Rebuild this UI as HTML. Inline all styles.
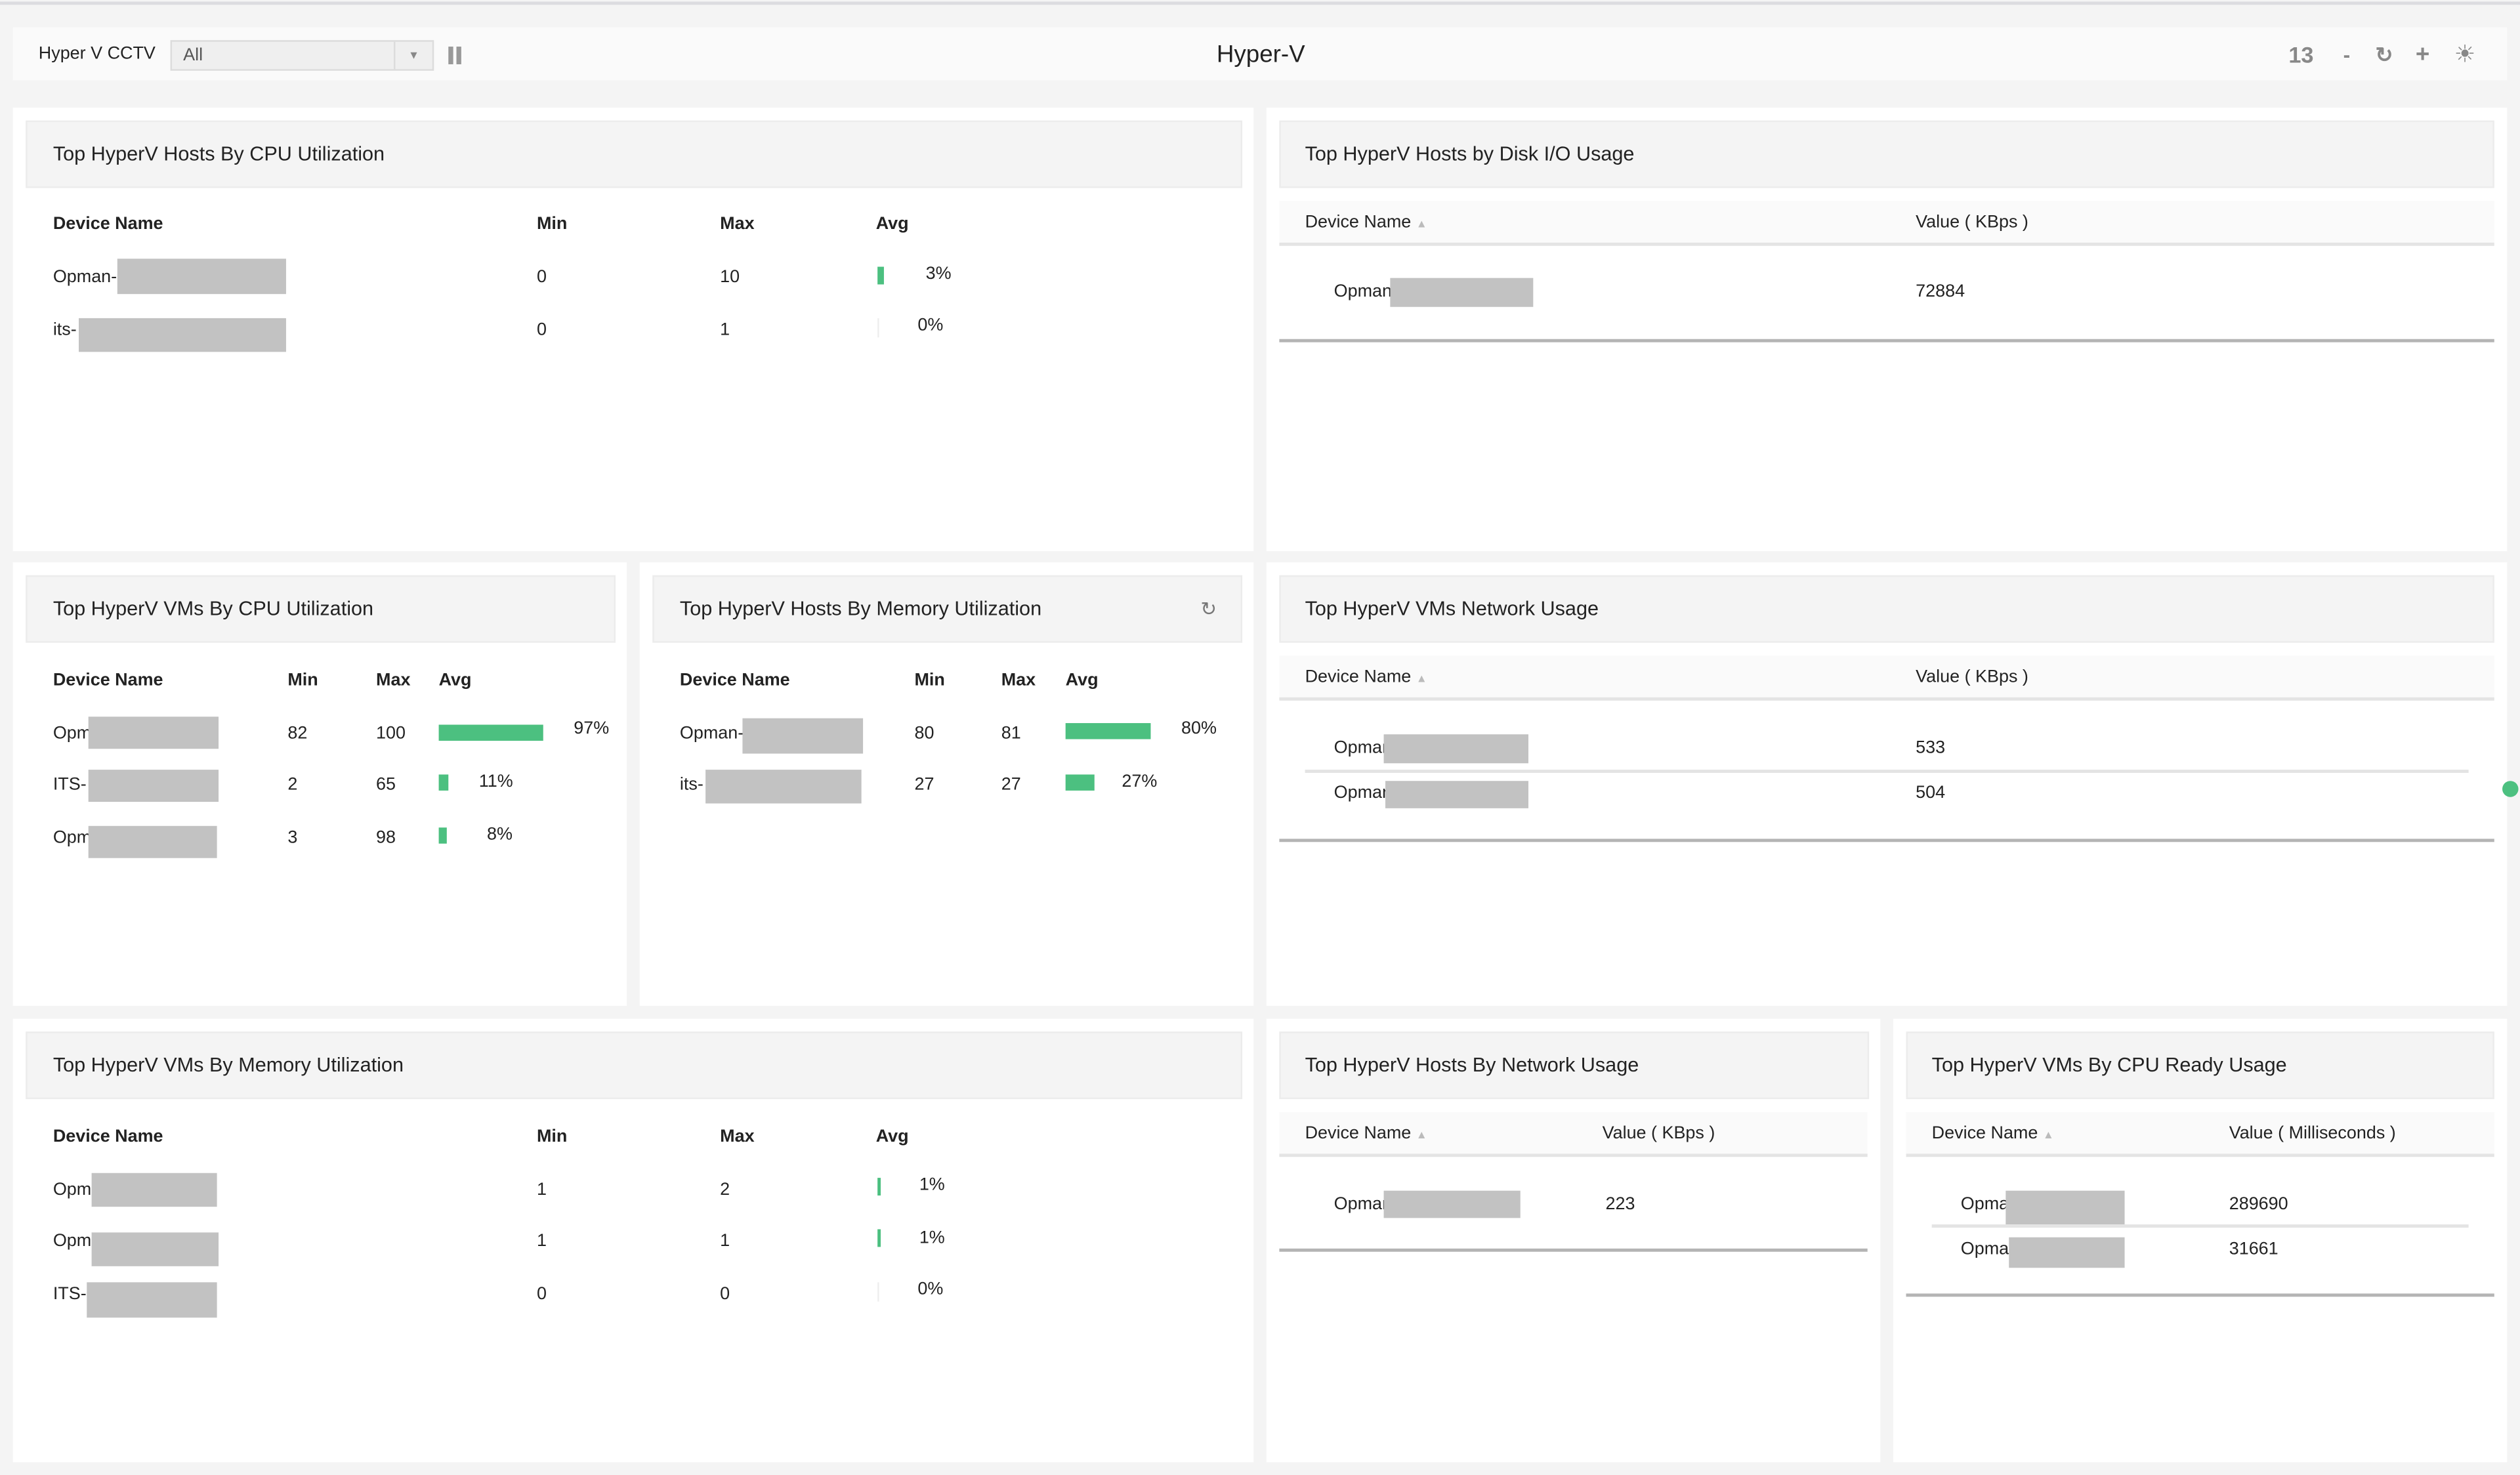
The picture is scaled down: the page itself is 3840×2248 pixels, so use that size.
<!DOCTYPE html>
<html><head><meta charset="utf-8"><style>
html,body{margin:0;padding:0;width:3840px;height:2247px;overflow:hidden;background:#f4f4f4}
#w{position:absolute;left:0;top:0;width:1568px;height:918px;transform:scale(2.44898);transform-origin:0 0;font-family:"Liberation Sans",sans-serif;color:#222}
#w div{position:absolute;box-sizing:border-box}
.p{background:#fff}
.h{background:#f4f4f4;border:1px solid #ececec;height:42px}
.t{transform:translateY(-50%);white-space:nowrap;font-size:11px;line-height:1}
.ti{font-size:12.5px}
.b{font-weight:bold}
.g{background:#c2c2c2}
.gr{background:#4cc080}
.ln{height:2px;background:#e4e4e4}
.lb{height:1.5px;background:#b4b4b4}
.hr{background:#fafafa}
.s{color:#bbb;font-size:7px}
</style></head><body><div id="w">
<div style="left:0;top:1px;width:1568px;height:2px;background:#dcdce0"></div>
<div style="left:8px;top:17px;width:1552px;height:33px;background:#fafafa"></div>
<div class="t" style="left:24px;top:34px">Hyper V CCTV</div>
<div style="left:106px;top:25px;width:164px;height:19px;background:#efefef;border:1px solid #dcdcdc"></div>
<div style="left:245px;top:26px;width:1px;height:17px;background:#dcdcdc"></div>
<div class="t" style="left:114px;top:35px;color:#555">All</div>
<div class="t" style="left:254px;top:35px;color:#888;font-size:7px">▼</div>
<div style="left:279px;top:29px;width:3px;height:11px;background:#999"></div>
<div style="left:284px;top:29px;width:3px;height:11px;background:#999"></div>
<div class="t" style="left:757px;top:34px;font-size:15px">Hyper-V</div>
<div class="t b" style="left:1424px;top:34px;font-size:14px;color:#888">13</div>
<div class="t b" style="left:1458px;top:34px;font-size:13px;color:#888">-</div>
<div class="t b" style="left:1478px;top:34px;font-size:13px;color:#888">↻</div>
<div class="t b" style="left:1503px;top:34px;font-size:15px;color:#888">+</div>
<div class="t" style="left:1527px;top:34px;font-size:15px;color:#888">☀</div>

<!-- row 1 -->
<div class="p" style="left:8px;top:67px;width:772px;height:276px"></div>
<div class="h" style="left:16px;top:75px;width:757px"></div>
<div class="t ti" style="left:33px;top:96px">Top HyperV Hosts By CPU Utilization</div>
<div class="t b" style="left:33px;top:140px">Device Name</div>
<div class="t b" style="left:334px;top:140px">Min</div>
<div class="t b" style="left:448px;top:140px">Max</div>
<div class="t b" style="left:545px;top:140px">Avg</div>
<div class="t" style="left:33px;top:173px">Opman-</div><div class="g" style="left:73px;top:161px;width:105px;height:22px"></div>
<div class="t" style="left:334px;top:173px">0</div><div class="t" style="left:448px;top:173px">10</div>
<div class="gr" style="left:546px;top:166px;width:4px;height:11px"></div><div class="t" style="left:576px;top:171px">3%</div>
<div class="t" style="left:33px;top:206px">its-</div><div class="g" style="left:49px;top:198px;width:129px;height:21px"></div>
<div class="t" style="left:334px;top:206px">0</div><div class="t" style="left:448px;top:206px">1</div>
<div style="left:546px;top:198px;width:1px;height:12px;background:#eee"></div><div class="t" style="left:571px;top:203px">0%</div>

<div class="p" style="left:788px;top:67px;width:772px;height:276px"></div>
<div class="h" style="left:796px;top:75px;width:756px"></div>
<div class="t ti" style="left:812px;top:96px">Top HyperV Hosts by Disk I/O Usage</div>
<div class="hr" style="left:796px;top:125px;width:756px;height:26px"></div>
<div class="t" style="left:812px;top:139px">Device Name <span class="s">▲</span></div>
<div class="t" style="left:1192px;top:139px">Value ( KBps )</div>
<div class="ln" style="left:796px;top:151px;width:756px"></div>
<div class="t" style="left:830px;top:182px">Opman</div><div class="g" style="left:865px;top:173px;width:89px;height:18px"></div>
<div class="t" style="left:1192px;top:182px">72884</div>
<div class="lb" style="left:796px;top:211px;width:756px"></div>

<!-- row 2 -->
<div class="p" style="left:8px;top:350px;width:382px;height:276px"></div>
<div class="h" style="left:16px;top:358px;width:367px"></div>
<div class="t ti" style="left:33px;top:379px">Top HyperV VMs By CPU Utilization</div>
<div class="t b" style="left:33px;top:424px">Device Name</div>
<div class="t b" style="left:179px;top:424px">Min</div>
<div class="t b" style="left:234px;top:424px">Max</div>
<div class="t b" style="left:273px;top:424px">Avg</div>
<div class="t" style="left:33px;top:457px">Opm</div><div class="g" style="left:55px;top:446px;width:81px;height:20px"></div>
<div class="t" style="left:179px;top:457px">82</div><div class="t" style="left:234px;top:457px">100</div>
<div class="gr" style="left:273px;top:451px;width:65px;height:10px"></div><div class="t" style="left:357px;top:454px">97%</div>
<div class="t" style="left:33px;top:489px">ITS-</div><div class="g" style="left:55px;top:479px;width:81px;height:20px"></div>
<div class="t" style="left:179px;top:489px">2</div><div class="t" style="left:234px;top:489px">65</div>
<div class="gr" style="left:273px;top:482px;width:6px;height:10px"></div><div class="t" style="left:298px;top:487px">11%</div>
<div class="t" style="left:33px;top:522px">Opm</div><div class="g" style="left:55px;top:514px;width:80px;height:20px"></div>
<div class="t" style="left:179px;top:522px">3</div><div class="t" style="left:234px;top:522px">98</div>
<div class="gr" style="left:273px;top:515px;width:5px;height:10px"></div><div class="t" style="left:303px;top:520px">8%</div>

<div class="p" style="left:398px;top:350px;width:382px;height:276px"></div>
<div class="h" style="left:406px;top:358px;width:367px"></div>
<div class="t ti" style="left:423px;top:379px">Top HyperV Hosts By Memory Utilization</div>
<div class="t" style="left:747px;top:379px;color:#777;font-size:12px">↻</div>
<div class="t b" style="left:423px;top:424px">Device Name</div>
<div class="t b" style="left:569px;top:424px">Min</div>
<div class="t b" style="left:623px;top:424px">Max</div>
<div class="t b" style="left:663px;top:424px">Avg</div>
<div class="t" style="left:423px;top:457px">Opman-</div><div class="g" style="left:462px;top:447px;width:75px;height:22px"></div>
<div class="t" style="left:569px;top:457px">80</div><div class="t" style="left:623px;top:457px">81</div>
<div class="gr" style="left:663px;top:450px;width:53px;height:10px"></div><div class="t" style="left:735px;top:454px">80%</div>
<div class="t" style="left:423px;top:489px">its-</div><div class="g" style="left:439px;top:479px;width:97px;height:21px"></div>
<div class="t" style="left:569px;top:489px">27</div><div class="t" style="left:623px;top:489px">27</div>
<div class="gr" style="left:663px;top:482px;width:18px;height:10px"></div><div class="t" style="left:698px;top:487px">27%</div>

<div class="p" style="left:788px;top:350px;width:772px;height:276px"></div>
<div class="h" style="left:796px;top:358px;width:756px"></div>
<div class="t ti" style="left:812px;top:379px">Top HyperV VMs Network Usage</div>
<div class="hr" style="left:796px;top:408px;width:756px;height:27px"></div>
<div class="t" style="left:812px;top:422px">Device Name <span class="s">▲</span></div>
<div class="t" style="left:1192px;top:422px">Value ( KBps )</div>
<div class="ln" style="left:796px;top:434px;width:756px"></div>
<div class="t" style="left:830px;top:466px">Opman</div><div class="g" style="left:861px;top:457px;width:90px;height:18px"></div>
<div class="t" style="left:1192px;top:466px">533</div>
<div class="ln" style="left:812px;top:479px;width:724px"></div>
<div class="t" style="left:830px;top:494px">Opman</div><div class="g" style="left:862px;top:486px;width:89px;height:17px"></div>
<div class="t" style="left:1192px;top:494px">504</div>
<div class="lb" style="left:796px;top:522px;width:756px"></div>
<div style="left:1557px;top:486px;width:10px;height:10px;border-radius:50%;background:#4cc080"></div>

<!-- row 3 -->
<div class="p" style="left:8px;top:634px;width:772px;height:276px"></div>
<div class="h" style="left:16px;top:642px;width:757px"></div>
<div class="t ti" style="left:33px;top:663px">Top HyperV VMs By Memory Utilization</div>
<div class="t b" style="left:33px;top:708px">Device Name</div>
<div class="t b" style="left:334px;top:708px">Min</div>
<div class="t b" style="left:448px;top:708px">Max</div>
<div class="t b" style="left:545px;top:708px">Avg</div>
<div class="t" style="left:33px;top:741px">Opm</div><div class="g" style="left:57px;top:730px;width:78px;height:21px"></div>
<div class="t" style="left:334px;top:741px">1</div><div class="t" style="left:448px;top:741px">2</div>
<div class="gr" style="left:546px;top:733px;width:2px;height:11px"></div><div class="t" style="left:572px;top:738px">1%</div>
<div class="t" style="left:33px;top:773px">Opm</div><div class="g" style="left:57px;top:767px;width:79px;height:21px"></div>
<div class="t" style="left:334px;top:773px">1</div><div class="t" style="left:448px;top:773px">1</div>
<div class="gr" style="left:546px;top:765px;width:2px;height:11px"></div><div class="t" style="left:572px;top:771px">1%</div>
<div class="t" style="left:33px;top:806px">ITS-</div><div class="g" style="left:54px;top:798px;width:81px;height:22px"></div>
<div class="t" style="left:334px;top:806px">0</div><div class="t" style="left:448px;top:806px">0</div>
<div style="left:546px;top:798px;width:1px;height:12px;background:#eee"></div><div class="t" style="left:571px;top:803px">0%</div>

<div class="p" style="left:788px;top:634px;width:382px;height:276px"></div>
<div class="h" style="left:796px;top:642px;width:367px"></div>
<div class="t ti" style="left:812px;top:663px">Top HyperV Hosts By Network Usage</div>
<div class="hr" style="left:796px;top:692px;width:366px;height:26px"></div>
<div class="t" style="left:812px;top:706px">Device Name <span class="s">▲</span></div>
<div class="t" style="left:997px;top:706px">Value ( KBps )</div>
<div class="ln" style="left:796px;top:718px;width:366px"></div>
<div class="t" style="left:830px;top:750px">Opman</div><div class="g" style="left:861px;top:741px;width:85px;height:17px"></div>
<div class="t" style="left:999px;top:750px">223</div>
<div class="lb" style="left:796px;top:777px;width:366px"></div>

<div class="p" style="left:1178px;top:634px;width:382px;height:276px"></div>
<div class="h" style="left:1186px;top:642px;width:366px"></div>
<div class="t ti" style="left:1202px;top:663px">Top HyperV VMs By CPU Ready Usage</div>
<div class="hr" style="left:1186px;top:692px;width:366px;height:26px"></div>
<div class="t" style="left:1202px;top:706px">Device Name <span class="s">▲</span></div>
<div class="t" style="left:1387px;top:706px">Value ( Milliseconds )</div>
<div class="ln" style="left:1186px;top:718px;width:366px"></div>
<div class="t" style="left:1220px;top:750px">Opman</div><div class="g" style="left:1248px;top:741px;width:74px;height:21px"></div>
<div class="t" style="left:1387px;top:750px">289690</div>
<div class="ln" style="left:1202px;top:762px;width:334px"></div>
<div class="t" style="left:1220px;top:778px">Opman</div><div class="g" style="left:1250px;top:770px;width:72px;height:19px"></div>
<div class="t" style="left:1387px;top:778px">31661</div>
<div class="lb" style="left:1186px;top:805px;width:366px"></div>
</div></body></html>
